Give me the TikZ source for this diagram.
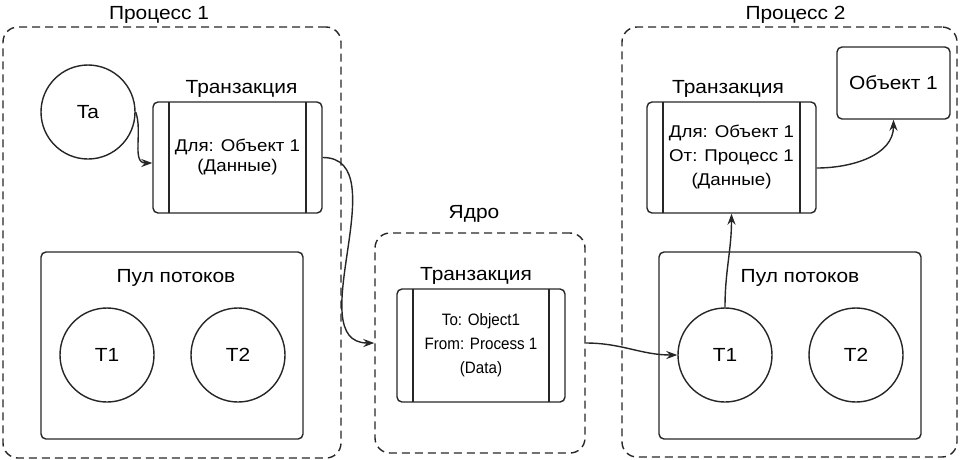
\documentclass[tikz,border=0pt]{standalone}
\usepackage{fontspec}
\setmainfont{Liberation Sans}[FakeStretch=1.1]
\newfontfamily\latinfont{Liberation Sans}[FakeStretch=0.92]
\usepackage{xcolor}
\usepackage{tikz}
\usetikzlibrary{positioning,arrows.meta}
\definecolor{ink}{HTML}{262626}

\begin{document}
\begin{tikzpicture}[x=1pt,y=1pt,
      dashbox/.style={draw=ink,line width=1.4pt,dash pattern=on 8pt off 5pt,rounded corners=15pt,inner sep=0pt},
      plainbox/.style={draw=ink,line width=1.4pt,rounded corners=5pt,inner sep=0pt},
      txbox/.style={plainbox,minimum width=169pt,minimum height=111pt,align=center,font=\fontsize{17}{22}\selectfont,
        path picture={\draw[ink,line width=1.4pt]
          ([xshift=16pt]path picture bounding box.north west) -- ([xshift=16pt]path picture bounding box.south west)
          ([xshift=-16pt]path picture bounding box.north east) -- ([xshift=-16pt]path picture bounding box.south east);}},
      thread/.style={draw=ink,line width=1.4pt,circle,minimum size=94pt,inner sep=0pt,font=\fontsize{19}{20}\selectfont},
      title/.style={inner sep=0pt,font=\fontsize{19}{22}\selectfont},
      arrow/.style={-{Stealth[length=11pt,width=8pt]},line width=1.4pt,color=ink}]
      \useasboundingbox (0,0) rectangle (963,-459);
      % groups
      \node[dashbox,minimum width=338pt,minimum height=431pt] (proc1) at (172,-242.5) {};
      \node[title,above=3pt of proc1,xshift=-13pt] (proc1t) {Процесс 1};
      \node[dashbox,minimum width=335pt,minimum height=430pt] (proc2) at (789.5,-242) {};
      \node[title,above=3pt of proc2,xshift=6pt] (proc2t) {Процесс 2};
      \node[dashbox,minimum width=210pt,minimum height=220pt] (kernel) at (480,-343) {};
      \node[title,above=10pt of kernel,xshift=-6pt] (kernelt) {Ядро};
      % process 1
      \node[thread] (ta) at (88,-112) {Ta};
      \node[txbox,font=\fontsize{17}{20}\selectfont] (tr1) at (237.5,-157.5) {Для: Объект 1\\(Данные)};
      \node[title,above=4pt of tr1,xshift=4pt] (tr1t) {Транзакция};
      \node[plainbox,minimum width=262pt,minimum height=187pt] (pool1) at (172,-345.5) {};
      \node[title,below=18pt of pool1.north,xshift=4pt] (pool1t) {Пул потоков};
      \node[thread] (p1t1) at (107,-355) {T1};
      \node[thread] (p1t2) at (238,-355) {T2};
      % kernel
      \node[txbox,minimum width=168pt,minimum height=113pt,font=\latinfont\fontsize{16.5}{24}\selectfont] (ktx) at (481,-345.5) {To: Object1\\From: Process 1\\(Data)};
      \node[title,above=4pt of ktx,xshift=-5pt] (ktxt) {Транзакция};
      % process 2
      \node[txbox,font=\fontsize{17}{24}\selectfont] (tr2) at (731.5,-157.5) {Для: Объект 1\\От: Процесс 1\\(Данные)};
      \node[title,above=4pt of tr2,xshift=-3.5pt] (tr2t) {Транзакция};
      \node[plainbox,minimum width=113pt,minimum height=72pt,font=\fontsize{19}{22}\selectfont] (obj1) at (893.5,-83) {Объект 1};
      \node[plainbox,minimum width=262pt,minimum height=187pt] (pool2) at (790,-345.5) {};
      \node[title,below=18pt of pool2.north,xshift=10pt] (pool2t) {Пул потоков};
      \node[thread] (p2t1) at (725,-355) {T1};
      \node[thread] (p2t2) at (856,-355) {T2};
      % messages
      \draw[arrow] (ta.east) to[out=-70,in=180] ([yshift=-5.5pt]tr1.west);
      \draw[arrow] (tr1.east) to[out=0,in=180] (kernel.west);
      \draw[arrow] (kernel.east) to[out=0,in=180] (p2t1.west);
      \draw[arrow] (p2t1.north) to[out=90,in=-90] (tr2.south);
      \draw[arrow] ([yshift=-10.5pt]tr2.east) to[out=0,in=-90] (obj1.south);
    \end{tikzpicture}
\end{document}
